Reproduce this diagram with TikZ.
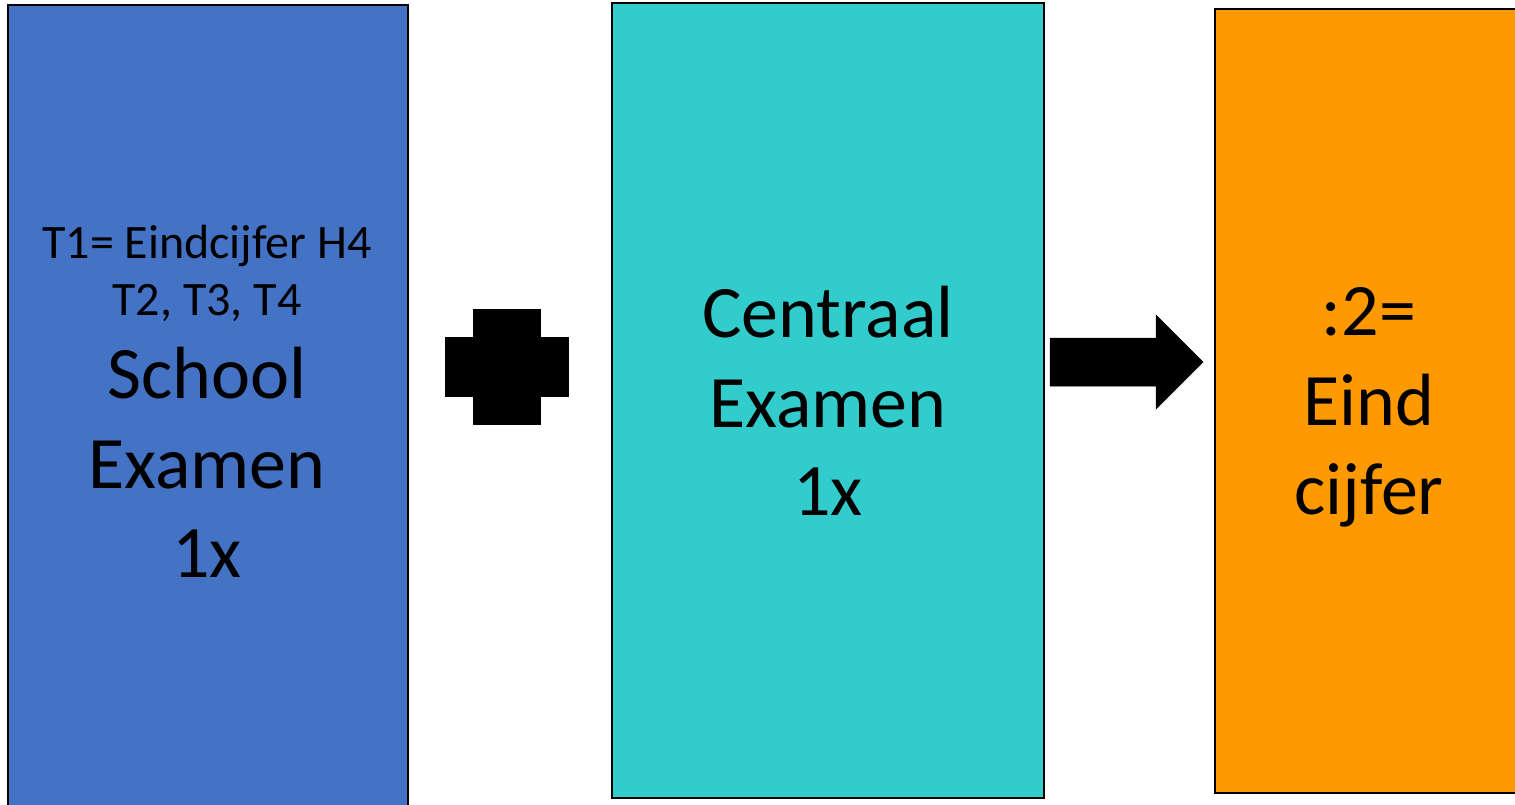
\documentclass[tikz,border=0pt]{standalone}
\usepackage{fontspec}
\setmainfont{Carlito}
\definecolor{sblue}{HTML}{4472C4}
\definecolor{steal}{HTML}{33CCCC}
\definecolor{sorange}{HTML}{FF9900}
\tikzset{
  box/.style={draw=black, line width=1.5pt},
  big/.style={anchor=base, inner sep=0pt, font=\fontsize{74}{89}\selectfont},
  small/.style={anchor=base, inner sep=0pt, font=\fontsize{48}{58}\selectfont},
  blackshape/.style={fill=black, draw=black, line width=0.5pt}
}
\begin{document}
\begin{tikzpicture}[x=1pt,y=-1pt]
\useasboundingbox (0,0) rectangle (1515,804);
\begin{scope}
\clip (0,0) rectangle (1515,804);
\draw[box, fill=sblue] (8,5) rectangle (408,815);
\draw[box, fill=steal] (612,3) rectangle (1044,798);
\draw[box, fill=sorange] (1215,9) rectangle (1530,793);
\end{scope}
% plus
\filldraw[blackshape] (473,309) -- (540,309) -- (540,337) -- (568,337) -- (568,396) -- (540,396) -- (540,424) -- (473,424) -- (473,396) -- (445,396) -- (445,337) -- (473,337) -- cycle;
% arrow
\filldraw[blackshape] (1050,338) -- (1156,338) -- (1156,315) -- (1203,362) -- (1156,409) -- (1156,386) -- (1050,386) -- cycle;
% texts blue
\node[small] (t1) at (207,258) {T1= Eindcijfer H4};
\node[small] (t2) at (207,315) {T2, T3, T4};
\node[big] (s1) at (207,398) {School};
\node[big] (s2) at (207,488) {Examen};
\node[big] (s3) at (207,577) {1x};
% teal
\node[big] (c1) at (828,337) {Centraal};
\node[big] (c2) at (828,427) {Examen};
\node[big] (c3) at (828,515) {1x};
% orange
\node[big] (e1) at (1369,335) {:2=};
\node[big] (e2) at (1369,425) {Eind};
\node[big] (e3) at (1369,514) {cijfer};
\end{tikzpicture}
\end{document}
